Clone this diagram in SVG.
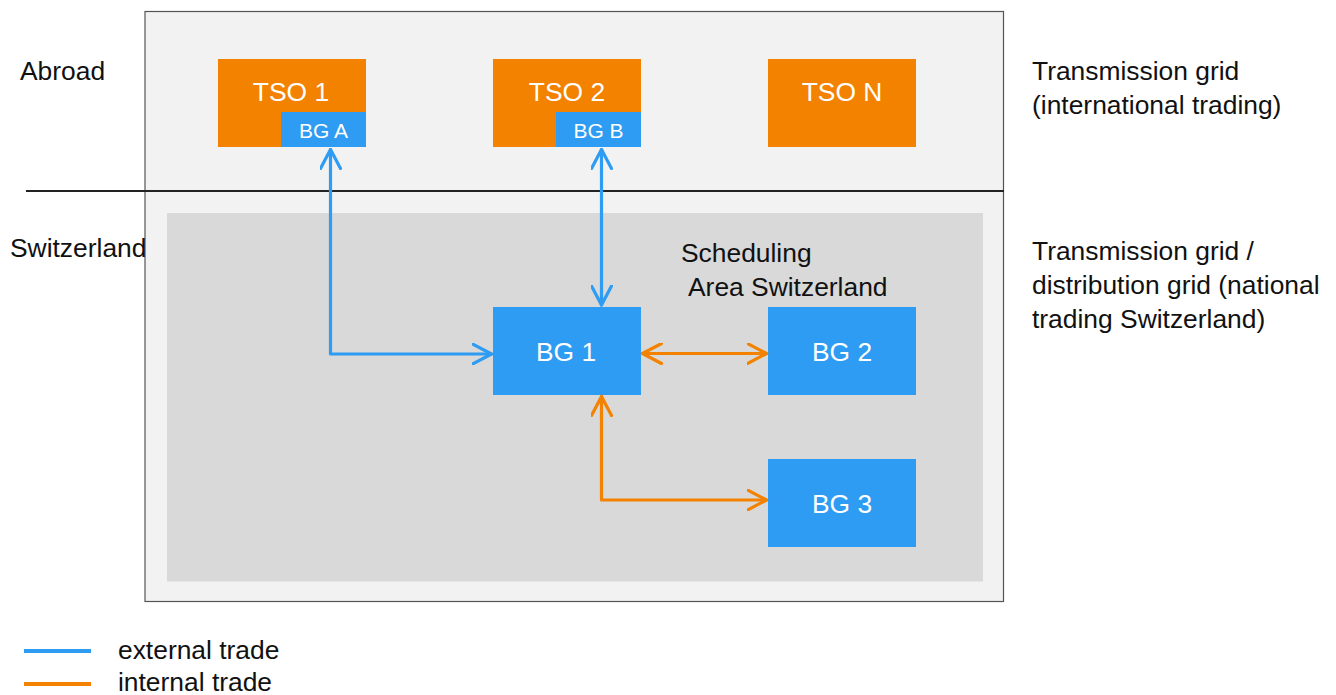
<svg xmlns="http://www.w3.org/2000/svg" width="1336" height="695" viewBox="0 0 1336 695">
<defs>
<style>
text{font-family:"Liberation Sans",Arial,sans-serif;font-size:26.4px;fill:#111}
.w{fill:#fff;text-anchor:middle}
.s{font-size:21px}
.or{fill:#f38200}
.bl{fill:#2d9cf2}
.eb{stroke:#2d9cf2;stroke-width:3.2;fill:none;stroke-linecap:round;stroke-linejoin:round}
.eo{stroke:#f38200;stroke-width:3.2;fill:none;stroke-linecap:round;stroke-linejoin:round}
</style>
<marker id="ab" viewBox="-20 -11 22 22" refX="0" refY="0" markerWidth="22" markerHeight="22" markerUnits="userSpaceOnUse" orient="auto-start-reverse">
<path d="M-19,-10 L0,0 L-19,10" fill="none" stroke="#2d9cf2" stroke-width="3.2" stroke-linecap="round" stroke-linejoin="round"/>
</marker>
<marker id="ao" viewBox="-20 -11 22 22" refX="0" refY="0" markerWidth="22" markerHeight="22" markerUnits="userSpaceOnUse" orient="auto-start-reverse">
<path d="M-19,-10 L0,0 L-19,10" fill="none" stroke="#f38200" stroke-width="3.2" stroke-linecap="round" stroke-linejoin="round"/>
</marker>
</defs>
<rect width="1336" height="695" fill="#fff"/>
<g id="frame">
<rect x="145" y="11.5" width="858.5" height="590" fill="#f2f2f2" stroke="#555" stroke-width="1.2"/>
<rect x="167" y="213" width="816" height="368.5" fill="#d9d9d9"/>
<line x1="26" y1="191" x2="1004" y2="191" stroke="#222" stroke-width="2"/>
</g>
<g id="labels">
<text x="20" y="80">Abroad</text>
<text x="10" y="257">Switzerland</text>
<text x="1032" y="80">Transmission grid</text>
<text x="1032" y="114">(international trading)</text>
<text x="1032" y="260">Transmission grid /</text>
<text x="1032" y="294">distribution grid (national</text>
<text x="1032" y="328">trading Switzerland)</text>
<text x="681" y="262">Scheduling</text>
<text x="688" y="296">Area Switzerland</text>
</g>
<g id="tso1">
<rect class="or" x="218" y="59" width="148" height="88"/>
<text class="w" x="291" y="101">TSO 1</text>
</g>
<g id="bgA">
<rect class="bl" x="281" y="112" width="85" height="35"/>
<text class="w s" x="323.5" y="138">BG A</text>
</g>
<g id="tso2">
<rect class="or" x="493" y="59" width="148" height="88"/>
<text class="w" x="567" y="101">TSO 2</text>
</g>
<g id="bgB">
<rect class="bl" x="556" y="112" width="85" height="35"/>
<text class="w s" x="598.5" y="138">BG B</text>
</g>
<g id="tsoN">
<rect class="or" x="768" y="59" width="148" height="88"/>
<text class="w" x="842" y="101">TSO N</text>
</g>
<g id="bg1">
<rect class="bl" x="493" y="307" width="148" height="88"/>
<text class="w" x="566" y="361">BG 1</text>
</g>
<g id="bg2">
<rect class="bl" x="768" y="307" width="148" height="88"/>
<text class="w" x="842" y="361">BG 2</text>
</g>
<g id="bg3">
<rect class="bl" x="768" y="459" width="148" height="88"/>
<text class="w" x="842" y="513">BG 3</text>
</g>
<g id="connectors">
<path class="eb" d="M330.5,149.5 V354 H491.5" marker-start="url(#ab)" marker-end="url(#ab)"/>
<path class="eb" d="M601.5,149.5 V305" marker-start="url(#ab)" marker-end="url(#ab)"/>
<path class="eo" d="M642.5,353.5 H766.5" marker-start="url(#ao)" marker-end="url(#ao)"/>
<path class="eo" d="M601.5,396.5 V500 H766.5" marker-start="url(#ao)" marker-end="url(#ao)"/>
</g>
<g id="legend">
<line x1="24" y1="651" x2="91" y2="651" stroke="#2d9cf2" stroke-width="4"/>
<line x1="24" y1="684" x2="91" y2="684" stroke="#f38200" stroke-width="4"/>
<text x="118" y="659">external trade</text>
<text x="118" y="691">internal trade</text>
</g>
</svg>
